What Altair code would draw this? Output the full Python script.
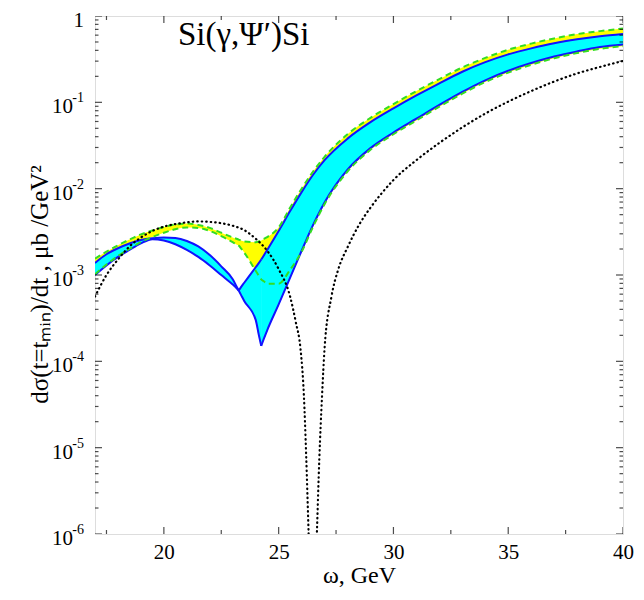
import altair as alt
import pandas as pd

# ---------------- data ----------------
omega = [17.0, 17.5, 18.0, 18.5, 19.0, 19.5, 20.0, 20.5, 21.0, 21.5, 22.0, 22.5,
         23.0, 23.16, 23.26, 23.36, 23.5, 24.0, 24.14, 24.24, 24.34, 24.5, 25.0,
         25.5, 26.0, 26.5, 27.0, 28.0, 29.0, 30.0, 31.0, 32.0, 33.0, 34.0, 35.0,
         36.0, 37.0, 38.0, 39.0, 40.0]

# blue band (cyan fill), edge 1 and edge 2
blue_edge_1 = [1.38e-3, 1.74e-3, 2.04e-3, 2.32e-3, 2.54e-3, 2.66e-3, 2.72e-3, 2.68e-3,
               2.48e-3, 2.14e-3, 1.70e-3, 1.26e-3, 8.91e-4, 7.41e-4, 6.61e-4, 7.24e-4,
               8.13e-4, 1.23e-3, 1.38e-3, 1.51e-3, 1.66e-3, 1.95e-3, 3.24e-3, 5.50e-3,
               9.12e-3, 1.45e-2, 2.14e-2, 3.80e-2, 5.89e-2, 8.51e-2, 0.120, 0.166,
               0.226, 0.292, 0.359, 0.422, 0.484, 0.537, 0.582, 0.617]
blue_edge_2 = [1.00e-3, 1.29e-3, 1.62e-3, 1.95e-3, 2.32e-3, 2.60e-3, 2.51e-3, 2.27e-3,
               1.95e-3, 1.62e-3, 1.29e-3, 1.00e-3, 7.76e-4, 7.08e-4, 6.61e-4, 5.89e-4,
               5.01e-4, 3.02e-4, 2.00e-4, 1.51e-4, 1.78e-4, 2.29e-4, 4.57e-4, 9.33e-4,
               1.91e-3, 3.80e-3, 6.92e-3, 1.66e-2, 2.95e-2, 4.47e-2, 6.46e-2, 9.33e-2,
               0.132, 0.180, 0.232, 0.285, 0.339, 0.389, 0.437, 0.468]

# green dashed band (yellow fill), edge 1 and edge 2
green_edge_1 = [1.55e-3, 1.86e-3, 2.21e-3, 2.57e-3, 2.95e-3, 3.27e-3, 3.59e-3, 3.85e-3,
                3.94e-3, 3.80e-3, 3.51e-3, 3.09e-3, 2.72e-3, 2.63e-3, 2.57e-3, 2.51e-3,
                2.45e-3, 2.40e-3, 2.45e-3, 2.51e-3, 2.60e-3, 2.75e-3, 3.55e-3, 6.03e-3,
                1.00e-2, 1.58e-2, 2.34e-2, 4.27e-2, 6.61e-2, 9.55e-2, 0.135, 0.186,
                0.254, 0.327, 0.407, 0.479, 0.550, 0.617, 0.668, 0.716]
green_edge_2 = [1.02e-3, 1.32e-3, 1.66e-3, 2.00e-3, 2.40e-3, 2.75e-3, 3.09e-3, 3.39e-3,
                3.55e-3, 3.51e-3, 3.24e-3, 2.82e-3, 2.40e-3, 2.26e-3, 2.19e-3, 2.04e-3,
                1.82e-3, 1.12e-3, 9.77e-4, 8.91e-4, 8.51e-4, 7.94e-4, 7.94e-4, 1.15e-3,
                1.86e-3, 3.63e-3, 6.61e-3, 1.58e-2, 2.82e-2, 4.27e-2, 6.17e-2, 8.91e-2,
                0.126, 0.172, 0.221, 0.272, 0.324, 0.372, 0.417, 0.447]

# sharp corners of the blue band (kink and dip), in GeV
blue_corners = [23.26, 24.24]

# black dotted curve
dot_omega = [17.0, 17.5, 18.0, 18.5, 19.0, 19.5, 20.0, 20.5, 21.0, 21.5, 22.0, 22.5,
             23.0, 23.5, 24.0, 24.5, 25.0, 25.5, 25.75, 25.95, 26.1, 26.2, 26.3, 26.48,
             26.67, 26.77, 26.89, 27.0, 27.3, 27.6, 28.0, 28.5, 29.0, 29.5, 30.0,
             31.0, 32.0, 33.0, 34.0, 35.0, 36.0, 37.0, 38.0, 39.0, 40.0]
dot_value = [5.62e-4, 1.00e-3, 1.51e-3, 2.14e-3, 2.72e-3, 3.24e-3, 3.63e-3, 3.89e-3,
             4.07e-3, 4.17e-3, 4.12e-3, 3.98e-3, 3.72e-3, 3.31e-3, 2.63e-3, 1.91e-3,
             1.17e-3, 5.62e-4, 2.82e-4, 1.41e-4, 3.98e-5, 7.94e-6, 1.12e-6, 3.2e-8,
             1.12e-6, 7.24e-6, 3.98e-5, 1.41e-4, 5.62e-4, 1.17e-3, 2.09e-3, 3.80e-3,
             6.03e-3, 8.91e-3, 1.26e-2, 2.14e-2, 3.39e-2, 5.13e-2, 7.41e-2, 0.102,
             0.135, 0.174, 0.216, 0.257, 0.302]

# axis ticks and labels
x_label_values = [20, 25, 30, 35, 40]
x_minor_values = [17.5, 22.5, 27.5, 32.5, 37.5]
y_exp_values = [1e-6, 1e-5, 1e-4, 1e-3, 1e-2, 1e-1]
y_exp_base = ["10", "10", "10", "10", "10", "10"]
y_exp_sup = ["-6", "-5", "-4", "-3", "-2", "-1"]
y_top_value = [1.0]
y_top_label = ["1"]
y_minor_values = [k * 10.0 ** n for n in range(-6, 0) for k in range(2, 10)]

reaction_label = "Si(\u03b3,\u03a8\u2032)Si"
x_title = "\u03c9, GeV"
y_title = "d\u03c3(t=t\u2098\u1d62\u2099)/dt , \u03bcb /GeV\u00b2"

# ---------------- chart ----------------
W = 528
H = 518
SERIF = "Liberation Serif"

xs = alt.Scale(domain=[17, 40], nice=False, zero=False)
ys = alt.Scale(type="log", domain=[1e-6, 1], nice=False)

x_axis = alt.Axis(values=x_label_values, ticks=False, domain=False, grid=False,
                  labelFont=SERIF, labelFontSize=21, labelColor="black",
                  labelPadding=7, labelFlush=False,
                  title=x_title, titleFont=SERIF, titleFontSize=24,
                  titleFontWeight="normal", titleColor="black", titlePadding=1)
y_axis = alt.Axis(labels=False, ticks=False, domain=False, grid=False,
                  title=y_title, titleFont=SERIF, titleFontSize=25,
                  titleFontWeight="normal", titleColor="black",
                  titleX=-56, titleY=268, titleBaseline="middle")


def X(field):
    return alt.X(field, type="quantitative", scale=xs, axis=x_axis)


def Y(field):
    return alt.Y(field, type="quantitative", scale=ys, axis=y_axis)


band = pd.DataFrame({"omega": omega, "b1": blue_edge_1, "b2": blue_edge_2,
                     "g1": green_edge_1, "g2": green_edge_2})

# the blue band is drawn in pieces split at its sharp corners
bounds = [omega[0]] + blue_corners + [omega[-1]]
pieces = []
for i in range(len(bounds) - 1):
    part = band[(band["omega"] >= bounds[i]) & (band["omega"] <= bounds[i + 1])].copy()
    part["seg"] = i
    pieces.append(part)
band_split = pd.concat(pieces, ignore_index=True)

dots = pd.DataFrame({"omega": dot_omega, "v": dot_value})

SMOOTH = "monotone"
yellow = alt.Chart(band).mark_area(color="#ffff00", clip=True, interpolate=SMOOTH).encode(
    x=X("omega"), y=Y("g1"), y2="g2")
cyan = alt.Chart(band_split).mark_area(color="#00ffff", clip=True, interpolate=SMOOTH,
                                       stroke="#00ffff", strokeWidth=0.6).encode(
    x=X("omega"), y=Y("b1"), y2="b2", detail="seg:N")


def blue_line(field):
    return alt.Chart(band_split).mark_line(color="#1212ff", strokeWidth=2, clip=True,
                                           interpolate=SMOOTH, strokeJoin="miter").encode(
        x=X("omega"), y=Y(field), detail="seg:N")


def green_line(field):
    return alt.Chart(band).mark_line(color="#33dd22", strokeWidth=2, strokeDash=[6, 4],
                                     clip=True, interpolate=SMOOTH).encode(
        x=X("omega"), y=Y(field))


dotted = alt.Chart(dots).mark_line(color="black", strokeWidth=2.2, strokeDash=[0.5, 4],
                                   strokeCap="round", clip=True,
                                   interpolate=SMOOTH).encode(x=X("omega"), y=Y("v"))

label_df = pd.DataFrame({"t": [reaction_label]})
reaction = alt.Chart(label_df).mark_text(
    align="left", baseline="alphabetic", font=SERIF, fontSize=33, color="black"
).encode(x=alt.value(83), y=alt.value(29), text="t:N")

# inward ticks
ymaj = pd.DataFrame({"v": y_exp_values + y_top_value})
ymin = pd.DataFrame({"v": y_minor_values})
xmaj = pd.DataFrame({"omega": x_label_values})
xmin = pd.DataFrame({"omega": x_minor_values})


def yticks(df, size, xpos):
    return alt.Chart(df).mark_tick(orient="horizontal", size=size, thickness=1.2,
                                   color="black", clip=True).encode(
        y=Y("v"), x=alt.value(xpos))


def xticks(df, size, ypos):
    return alt.Chart(df).mark_tick(orient="vertical", size=size, thickness=1.2,
                                   color="black", clip=True).encode(
        x=X("omega"), y=alt.value(ypos))


ticks = [yticks(ymaj, 14, 0), yticks(ymaj, 14, W), yticks(ymin, 7, 0), yticks(ymin, 7, W),
         xticks(xmaj, 14, H), xticks(xmaj, 14, 0), xticks(xmin, 8, H), xticks(xmin, 8, 0)]

# y tick labels as base + superscript
ylab = pd.DataFrame({"v": y_exp_values, "base": y_exp_base, "sup": y_exp_sup})
ytop = pd.DataFrame({"v": y_top_value, "t": y_top_label})
ybase = alt.Chart(ylab).mark_text(align="right", baseline="middle", font=SERIF,
                                  fontSize=21, dy=5, color="black").encode(
    y=Y("v"), x=alt.value(-22), text="base:N")
ysup = alt.Chart(ylab).mark_text(align="right", baseline="middle", font=SERIF,
                                 fontSize=14, dy=-4, color="black").encode(
    y=Y("v"), x=alt.value(-11), text="sup:N")
ytopt = alt.Chart(ytop).mark_text(align="right", baseline="middle", font=SERIF,
                                  fontSize=21, dy=5, color="black").encode(
    y=Y("v"), x=alt.value(-11), text="t:N")

chart = alt.layer(yellow, cyan, blue_line("b1"), blue_line("b2"),
                  green_line("g1"), green_line("g2"), dotted, reaction,
                  *ticks, ybase, ysup, ytopt).properties(
    width=W, height=H,
    autosize=alt.AutoSizeParams(type="none"),
    padding={"left": 87, "top": 8, "right": 11, "bottom": 56},
).configure_view(stroke="black", strokeWidth=1.5).configure(background="white")

chart.save("out.html", embed_options={"renderer": "svg", "actions": False})
